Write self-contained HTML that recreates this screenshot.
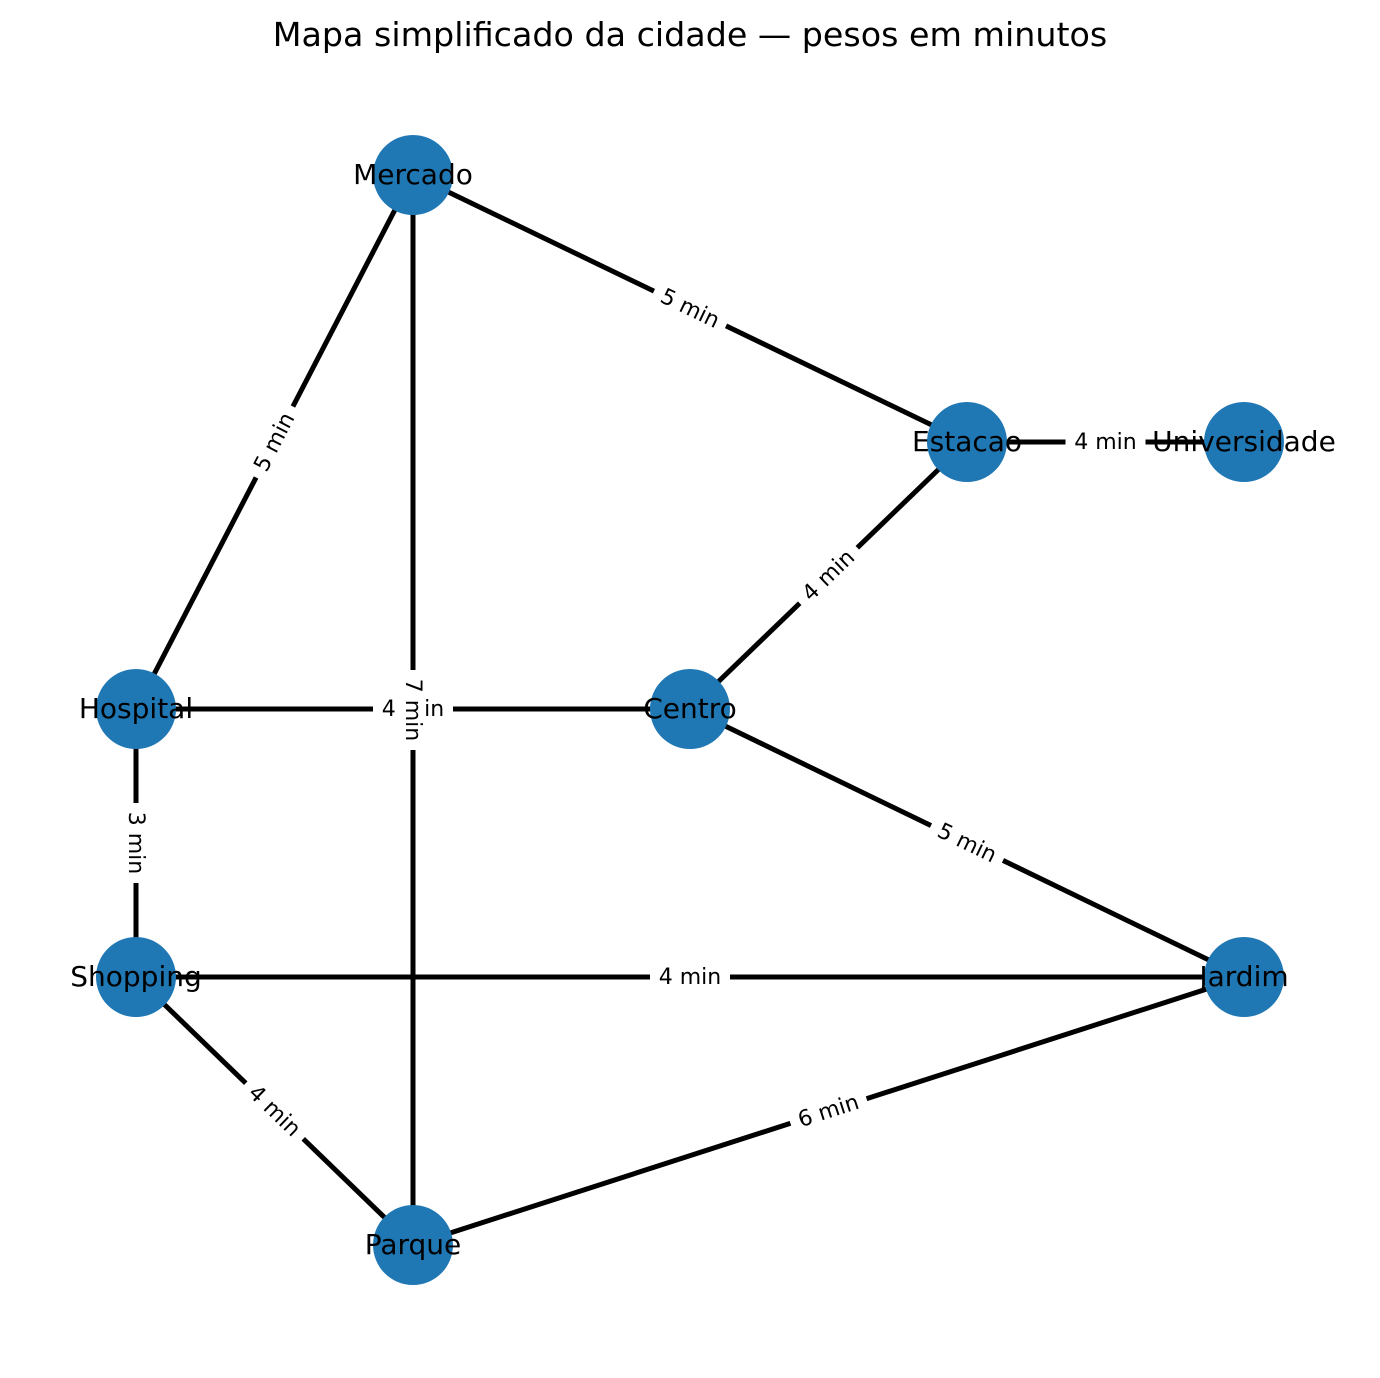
<!DOCTYPE html>
<html><head><meta charset="utf-8"><style>
body{margin:0;background:#fff}
svg{display:block;font-family:"DejaVu Sans","Liberation Sans",sans-serif}
</style></head><body>
<svg id="chart" width="1380" height="1378" viewBox="0 0 1380 1378">
<text x="690" y="46" text-anchor="middle" font-size="33.3" fill="#000">Mapa simplificado da cidade — pesos em minutos</text>
</svg>
<script>
const nodeNames = ["Mercado","Estacao","Universidade","Centro","Hospital","Shopping","Jardim","Parque"];
const nodeX = [413,967,1244,690,136,136,1244,413];
const nodeY = [175,442,442,709,709,977,977,1245];
const edgeFrom = ["Estacao","Mercado","Estacao","Hospital","Hospital","Centro","Shopping","Shopping","Parque","Mercado","Mercado"];
const edgeTo   = ["Universidade","Estacao","Centro","Centro","Shopping","Jardim","Jardim","Parque","Jardim","Hospital","Parque"];
const edgeWeights = [4,5,4,4,3,5,4,4,6,5,7];
const NS="http://www.w3.org/2000/svg";
const svg=document.getElementById('chart');
const pos=n=>{const i=nodeNames.indexOf(n);return [nodeX[i],nodeY[i]];};
function mk(t,a){const e=document.createElementNS(NS,t);for(const k in a)e.setAttribute(k,a[k]);return e;}
const gE=mk('g',{}),gN=mk('g',{}),gL=mk('g',{});



svg.appendChild(gE);svg.appendChild(gN);svg.appendChild(gL);
edgeFrom.forEach((f,i)=>{
  const [x1,y1]=pos(f),[x2,y2]=pos(edgeTo[i]);
  const l=mk('line',{x1,y1,x2,y2,stroke:'#000','stroke-width':5});
  
  
  gE.appendChild(l);
  let ang=Math.atan2(y2-y1,x2-x1)*180/Math.PI;
  if(ang>90)ang-=180; if(ang<=-90)ang+=180;
  const mx=(x1+x2)/2,my=(y1+y2)/2;
  const g=mk('g',{transform:`translate(${mx},${my}) rotate(${ang})`});
  
  
  g.appendChild(mk('rect',{x:-40,y:-13,width:80,height:26,fill:'#fff'}));
  const t=mk('text',{x:0,y:7,'text-anchor':'middle','font-size':22,fill:'#000'});
  t.textContent=edgeWeights[i]+' min';
  g.appendChild(t);gL.appendChild(g);
});
nodeNames.forEach((n,i)=>{
  const g=mk('g',{});
  
  
  g.appendChild(mk('circle',{cx:nodeX[i],cy:nodeY[i],r:40,fill:'#1f77b4'}));
  const t=mk('text',{x:nodeX[i],y:nodeY[i]+9,'text-anchor':'middle','font-size':28,fill:'#000'});
  t.textContent=n;g.appendChild(t);gN.appendChild(g);
});
</script>
</body></html>
